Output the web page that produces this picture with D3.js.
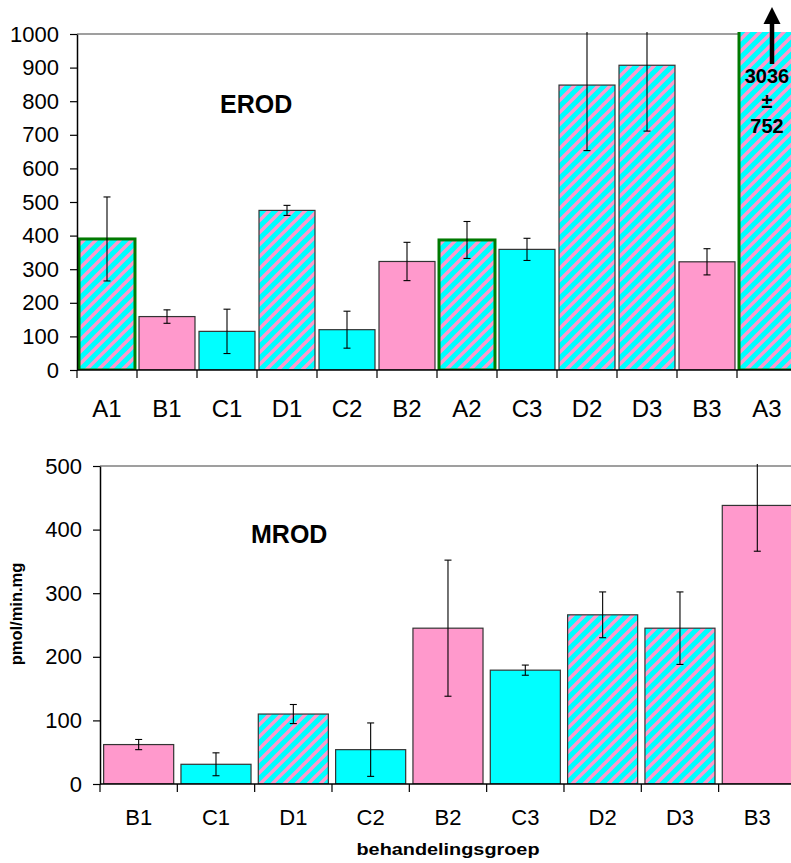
<!DOCTYPE html>
<html>
<head>
<meta charset="utf-8">
<script src="https://cdn.jsdelivr.net/npm/d3@7"></script>
<style>
  body { margin: 0; background: #fff; }
  svg { display: block; font-family: "Liberation Sans", Arial, sans-serif; }
</style>
</head>
<body>
<svg id="chart" width="791" height="863"></svg>
<script>
// EROD panel
var erodCats = ['A1', 'B1', 'C1', 'D1', 'C2', 'B2', 'A2', 'C3', 'D2', 'D3', 'B3', 'A3'];
var erodMeans = [390, 159, 115, 475, 120, 323, 387, 359, 848, 907, 322, 3036];
var erodErrs = [125, 20, 66, 15, 55, 57, 55, 33, 195, 196, 39, 752];
var erodTicks = [0, 100, 200, 300, 400, 500, 600, 700, 800, 900, 1000];

// MROD panel
var mrodCats = ['B1', 'C1', 'D1', 'C2', 'B2', 'C3', 'D2', 'D3', 'B3'];
var mrodMeans = [62, 31, 110, 54, 245, 179, 266, 245, 438];
var mrodErrs = [8, 18, 15, 42, 107, 8, 36, 57, 72];
var mrodTicks = [0, 100, 200, 300, 400, 500];

var annotLines = ['3036', '\u00b1', '752'];

var PINK = '#ff99cc', CYAN = '#00ffff', GREEN = '#007a00';

var svg = d3.select('#chart');
var defs = svg.append('defs');

// diagonal stripes pink on cyan
var P = 12;
var pat = defs.append('pattern')
    .attr('id', 'hatch')
    .attr('patternUnits', 'userSpaceOnUse')
    .attr('width', P).attr('height', P);
pat.append('rect').attr('width', P).attr('height', P).attr('fill', CYAN);
pat.append('path')
    .attr('d', 'M-3,' + (P + 3) + ' L' + (P + 3) + ',-3 M-' + (P / 2 + 3) + ',' + (P / 2 + 3) + ' L' + (P / 2 + 3) + ',-' + (P / 2 + 3) +
        ' M' + (P / 2 - 3) + ',' + (1.5 * P + 3) + ' L' + (1.5 * P + 3) + ',' + (P / 2 - 3))
    .attr('stroke', PINK).attr('stroke-width', 3.4);

function fillFor(cat) {
    var g = cat[0];
    if (g == 'B') return PINK;
    if (g == 'C') return CYAN;
    return 'url(#hatch)';
}

function panel(opt) {
    var x = d3.scaleBand()
        .domain(opt.cats)
        .range([opt.left, opt.left + opt.step * opt.cats.length])
        .paddingInner(opt.pad)
        .paddingOuter(opt.pad / 2);
    var y = d3.scaleLinear()
        .domain([0, opt.max])
        .range([opt.bottom, opt.top]);

    var g = svg.append('g');

    defs.append('clipPath').attr('id', opt.id + 'clip')
        .append('rect')
        .attr('x', opt.left).attr('y', opt.top - 2)
        .attr('width', 791 - opt.left).attr('height', opt.bottom - opt.top + 2);

    // top border of plot area
    g.append('line')
        .attr('x1', opt.left).attr('x2', 791)
        .attr('y1', opt.top).attr('y2', opt.top)
        .attr('stroke', '#7f7f7f').attr('stroke-width', 1.6);

    var data = opt.cats.map(function(c, i) {
        return {cat: c, v: opt.means[i], e: opt.errs[i]};
    });

    var bars = g.append('g').attr('clip-path', 'url(#' + opt.id + 'clip)');
    bars.selectAll('rect')
        .data(data)
        .enter()
        .append('rect')
        .attr('x', function(d) { return x(d.cat); })
        .attr('y', function(d) { return y(d.v); })
        .attr('width', x.bandwidth())
        .attr('height', function(d) { return opt.bottom - y(d.v); })
        .attr('fill', function(d) { return fillFor(d.cat); })
        .attr('stroke', function(d) { return d.cat[0] == 'A' ? GREEN : '#333'; })
        .attr('stroke-width', function(d) { return d.cat[0] == 'A' ? 3 : 1.2; });

    // error bars
    var eb = bars.selectAll('g.err')
        .data(data)
        .enter()
        .append('g')
        .attr('class', 'err')
        .attr('stroke', '#000')
        .attr('stroke-width', 1.1);
    eb.append('line')
        .attr('x1', function(d) { return x(d.cat) + x.bandwidth() / 2; })
        .attr('x2', function(d) { return x(d.cat) + x.bandwidth() / 2; })
        .attr('y1', function(d) { return y(d.v + d.e); })
        .attr('y2', function(d) { return y(d.v - d.e); });
    ['+', '-'].forEach(function(s) {
        eb.append('line')
            .attr('x1', function(d) { return x(d.cat) + x.bandwidth() / 2 - 3.5; })
            .attr('x2', function(d) { return x(d.cat) + x.bandwidth() / 2 + 3.5; })
            .attr('y1', function(d) { return y(s == '+' ? d.v + d.e : d.v - d.e); })
            .attr('y2', function(d) { return y(s == '+' ? d.v + d.e : d.v - d.e); });
    });

    // y axis
    var yAxis = d3.axisLeft(y).tickValues(opt.ticks).tickFormat(d3.format('d'))
        .tickSize(7).tickPadding(11).tickSizeOuter(0);
    var ya = g.append('g').attr('transform', 'translate(' + opt.left + ',0)').call(yAxis);
    ya.attr('font-family', null).attr('font-size', null);
    ya.select('.domain').attr('stroke', '#000').attr('stroke-width', 1.5);
    ya.selectAll('.tick line').attr('stroke', '#000').attr('stroke-width', 1.2);
    ya.selectAll('.tick text')
        .style('font-size', opt.yFont + 'px').attr('fill', '#000');

    // x axis: ticks between categories
    var xa = g.append('g');
    xa.append('line')
        .attr('x1', opt.left).attr('x2', 791)
        .attr('y1', opt.bottom).attr('y2', opt.bottom)
        .attr('stroke', '#000').attr('stroke-width', 1.5);
    xa.selectAll('line.tk')
        .data(d3.range(opt.cats.length + 1))
        .enter()
        .append('line')
        .attr('class', 'tk')
        .attr('x1', function(i) { return opt.left + i * x.step(); })
        .attr('x2', function(i) { return opt.left + i * x.step(); })
        .attr('y1', opt.bottom).attr('y2', opt.bottom + 8)
        .attr('stroke', '#000').attr('stroke-width', 1.2);
    xa.selectAll('text')
        .data(opt.cats)
        .enter()
        .append('text')
        .attr('x', function(c) { return x(c) + x.bandwidth() / 2; })
        .attr('y', opt.labelY)
        .attr('text-anchor', 'middle')
        .style('font-size', opt.xFont + 'px')
        .text(function(c) { return c; });

    g.append('text')
        .attr('x', opt.titleX).attr('y', opt.titleY)
        .style('font-size', '25px').attr('font-weight', 'bold')
        .text(opt.title);

    return {x: x, y: y};
}

var top1 = panel({
    id: 'erod', cats: erodCats, means: erodMeans, errs: erodErrs, ticks: erodTicks,
    left: 77, step: 60, pad: 0.067, top: 34, bottom: 370, max: 1000,
    yFont: 22, xFont: 24, labelY: 417, title: 'EROD', titleX: 220, titleY: 113
});

var bot = panel({
    id: 'mrod', cats: mrodCats, means: mrodMeans, errs: mrodErrs, ticks: mrodTicks,
    left: 100, step: 77.33, pad: 0.094, top: 466, bottom: 784, max: 500,
    yFont: 22, xFont: 22, labelY: 825, title: 'MROD', titleX: 251, titleY: 543
});

// off-scale annotation for A3
var ax = top1.x('A3') + top1.x.bandwidth() / 2 + 5;
var ann = svg.append('g').attr('font-weight', 'bold').style('font-size', '20px').attr('text-anchor', 'middle');
ann.selectAll('text')
    .data(annotLines)
    .enter()
    .append('text')
    .attr('x', ax - 5)
    .attr('y', function(d, i) { return 83 + i * 25; })
    .text(function(d) { return d; });
svg.append('line')
    .attr('x1', ax).attr('x2', ax)
    .attr('y1', 64).attr('y2', 22)
    .attr('stroke', '#000').attr('stroke-width', 4.5);
svg.append('path')
    .attr('d', 'M' + (ax - 8.5) + ',24 L' + (ax + 8.5) + ',24 L' + ax + ',7 Z')
    .attr('fill', '#000');

// axis titles
svg.append('text')
    .attr('transform', 'translate(22,614) rotate(-90)')
    .attr('text-anchor', 'middle')
    .style('font-size', '16.5px').attr('font-weight', 'bold')
    .text('pmol/min.mg');
svg.append('text')
    .attr('x', 448).attr('y', 855)
    .attr('text-anchor', 'middle')
    .style('font-size', '17px').attr('font-weight', 'bold')
    .attr('textLength', 183).attr('lengthAdjust', 'spacingAndGlyphs')
    .text('behandelingsgroep');
</script>
</body>
</html>
